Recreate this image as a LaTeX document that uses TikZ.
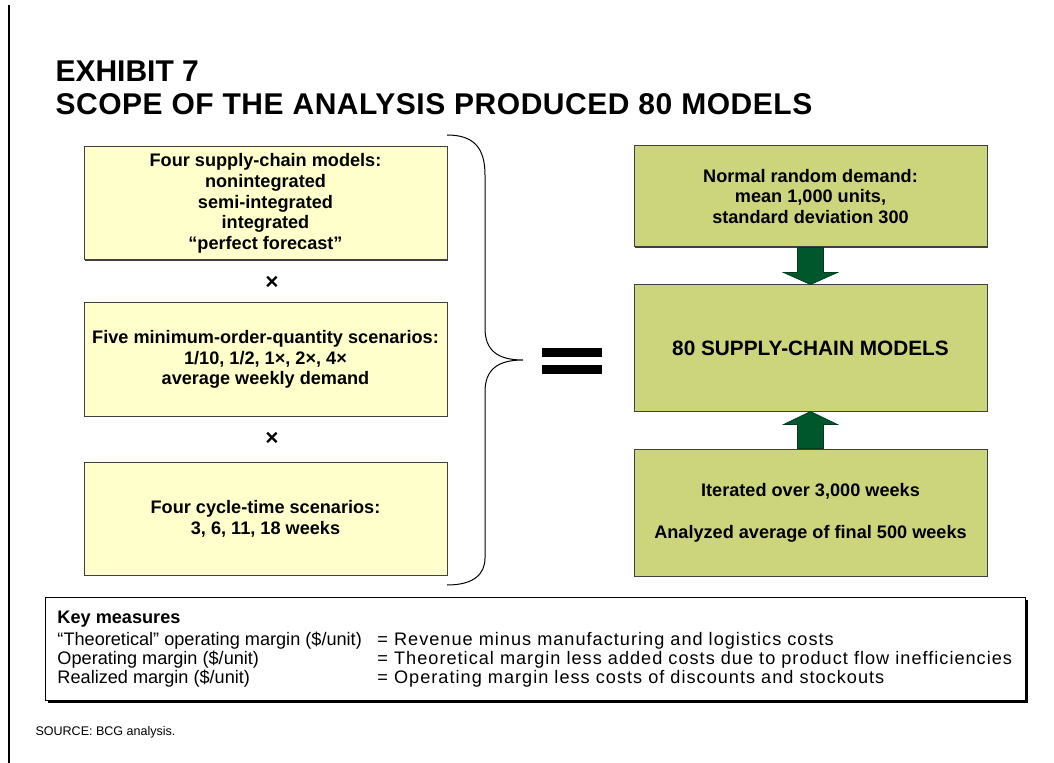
\documentclass[tikz,border=0pt]{standalone}
\usepackage{fontspec}
\usepackage{array}
\setmainfont{Liberation Sans}
\newfontfamily\widesans[LetterSpace=5.6]{Liberation Sans}
\newfontfamily\headsans[LetterSpace=1.8]{Liberation Sans}
\usetikzlibrary{positioning, calc, shadows}
\definecolor{cyellow}{HTML}{FFFFCC}
\definecolor{colive}{HTML}{CCD47C}
\definecolor{cgreen}{HTML}{00572B}
\definecolor{cedge}{HTML}{404040}
\tikzset{
  every picture/.style={line width=0.75pt},
  box/.style={draw=cedge, fill=#1, align=center, inner sep=0pt, font=\fontsize{13.6}{15.5}\selectfont\bfseries,
    drop shadow={shadow xshift=1.1pt, shadow yshift=-1.1pt, fill=black!75, opacity=1}},
  leftbox/.style={box=cyellow, minimum width=272.25pt, minimum height=84.75pt},
  rightbox/.style={box=colive, minimum width=264.75pt},
  times/.style={font=\fontsize{17}{17}\selectfont\bfseries, inner sep=0pt},
  fatarrow/.style={fill=cgreen, draw=cgreen!70!black, line width=0.5pt},
  title/.style={font=\fontsize{22.5}{24.75}\selectfont\bfseries, anchor=base west, inner sep=0pt},
  keybox/.style={draw=black, fill=white, minimum width=735pt, minimum height=77.25pt,
    drop shadow={shadow xshift=2.25pt, shadow yshift=-2.25pt, fill=black, opacity=1}},
  keytext/.style={font=\fontsize{13.6}{14.4}\selectfont, anchor=north west, inner sep=0pt},
  note/.style={font=\fontsize{9.4}{11}\selectfont, anchor=base west, inner sep=0pt},
}

\begin{document}
\begin{tikzpicture}[x=0.75pt, y=-0.75pt]
  \useasboundingbox (0,0) rectangle (1054,763);
  \draw[line width=1.5pt] (9,5) -- (9,763);
  \node[title] (exhibit) at (55,82) {EXHIBIT 7};
  \node[title] (headline) at (55,115) {\headsans SCOPE OF THE ANALYSIS PRODUCED 80 MODELS};

  \node[leftbox] (chains) at (265.5,203.5) {Four supply-chain models:\\nonintegrated\\semi-integrated\\integrated\\“perfect forecast”};
  \node[times] (times1) at (272,283) {×};
  \node[leftbox] (moq) at (265.5,359.5) {Five minimum-order-quantity scenarios:\\1/10, 1/2, 1×, 2×, 4×\\average weekly demand};
  \node[times] (times2) at (272,439) {×};
  \node[leftbox] (cycle) at (265.5,518.5) {Four cycle-time scenarios:\\3, 6, 11, 18 weeks};

  \draw (447,135) .. controls (474,135) and (485,148) .. (485,175) -- (485,328)
    .. controls (485,350) and (497,360) .. (523,360) .. controls (497,360) and (485,370) .. (485,392)
    -- (485,558) .. controls (485,574) and (474,585) .. (447,585);
  \fill (542,348) rectangle (602,356.5);
  \fill (542,365) rectangle (602,373.5);

  \node[rightbox, minimum height=75.75pt] (demand) at (810.5,196.5) {Normal random demand:\\mean 1,000 units,\\standard deviation 300};
  \node[rightbox, minimum height=94.5pt, font=\fontsize{15.6}{17}\selectfont\bfseries] (models) at (810.5,348) {80 SUPPLY-CHAIN MODELS};
  \node[rightbox, minimum height=95.25pt] (iter) at (810.5,512.5) {Iterated over 3,000 weeks\\[16pt]Analyzed average of final 500 weeks};

  \filldraw[fatarrow] ($(demand.south)+(-13,0)$) -- ++(0,25) -- ++(-14,0) -- (models.north)
    -- ($(demand.south)+(27,25)$) -- ++(-14,0) -- ($(demand.south)+(13,0)$) -- cycle;
  \filldraw[fatarrow] ($(iter.north)+(-13,0)$) -- ++(0,-24) -- ++(-14,0) -- (models.south)
    -- ($(iter.north)+(27,-24)$) -- ++(-14,0) -- ($(iter.north)+(13,0)$) -- cycle;

  \node[keybox] (key) at (535,648.5) {};
  \node[keytext] (keylines) at (57,609.6) {\begin{tabular}{@{}p{240pt}@{}>{\widesans}l@{}}
    \textbf{Key measures} & \\[2pt]
    “Theoretical” operating margin (\$/unit) & = Revenue minus manufacturing and logistics costs\\
    Operating margin (\$/unit) & = Theoretical margin less added costs due to product flow inefficiencies\\
    Realized margin (\$/unit) & = Operating margin less costs of discounts and stockouts
  \end{tabular}};
  \node[note] (source) at (35,735) {SOURCE: BCG analysis.};
\end{tikzpicture}
\end{document}
